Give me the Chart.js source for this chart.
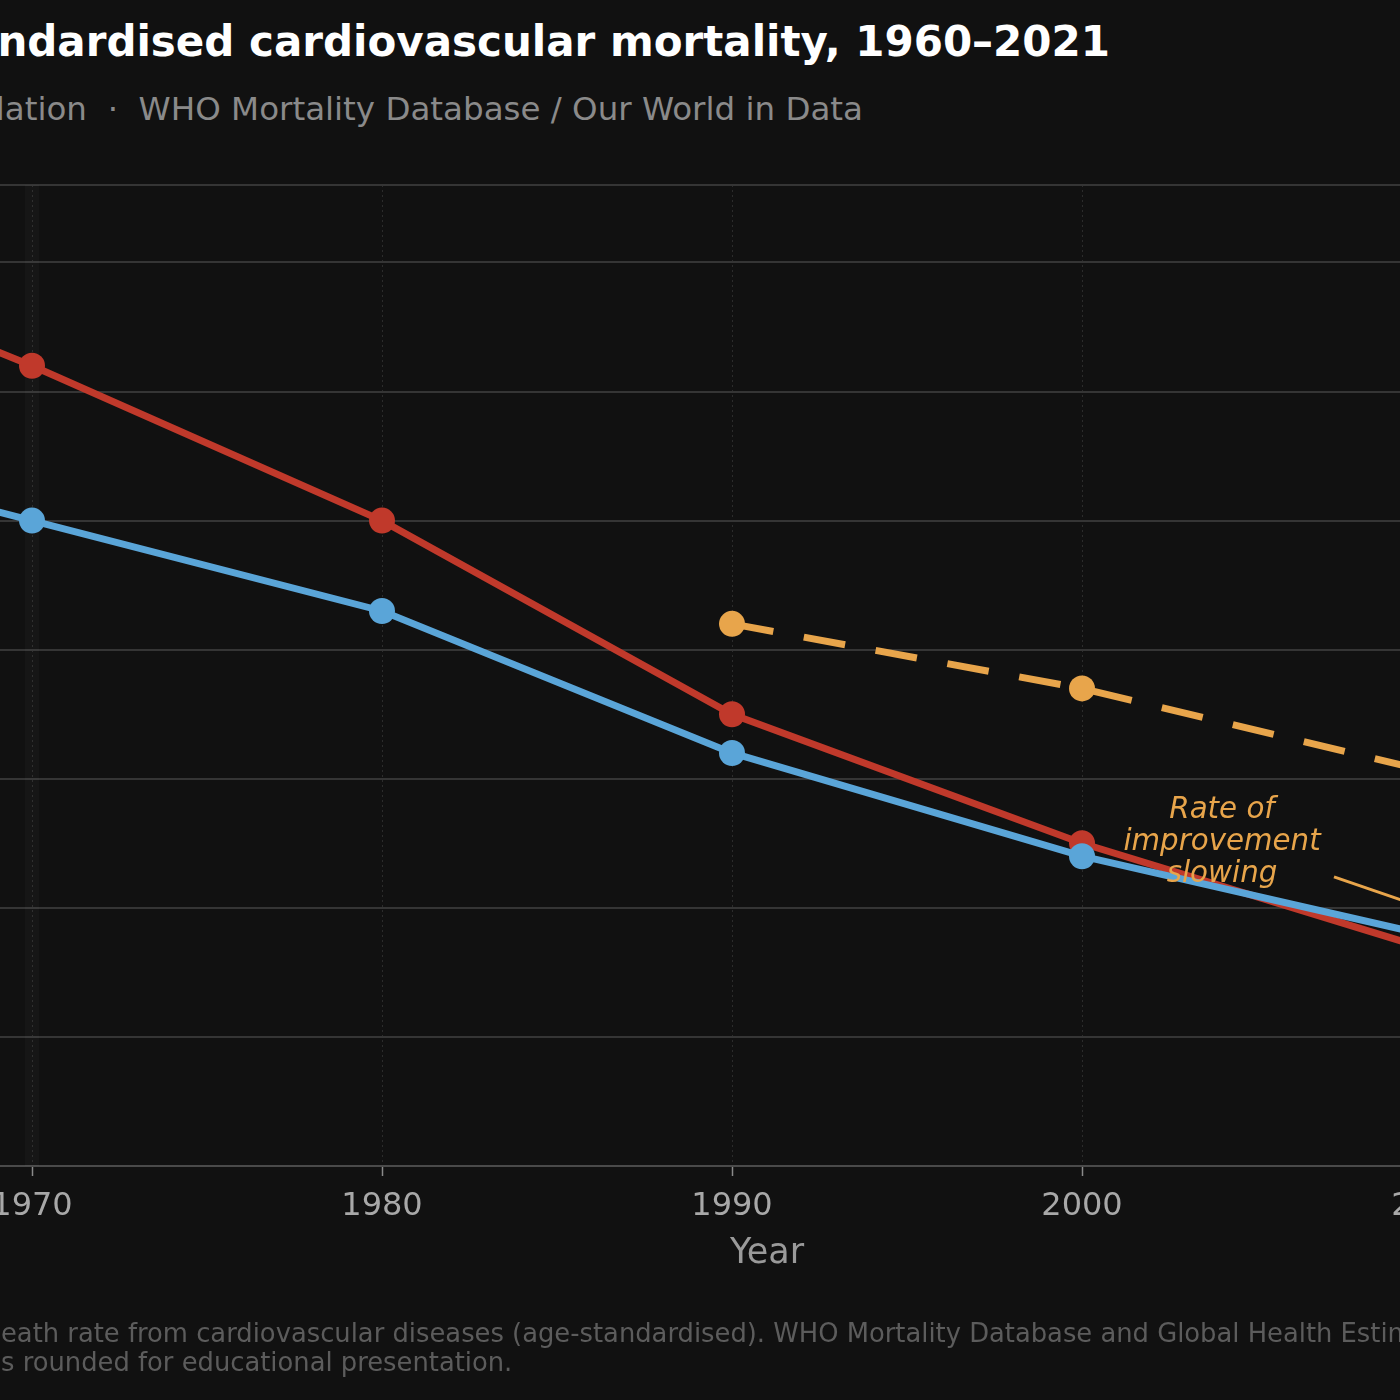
<!DOCTYPE html>
<html>
<head>
<meta charset="utf-8">
<title>Age-standardised cardiovascular mortality, 1960–2021</title>
<script src="https://cdn.jsdelivr.net/npm/chart.js@4.4.1/dist/chart.umd.min.js"></script>
<style>
    html, body { margin: 0; padding: 0; background: #111111; }
    body { position: relative; width: 1400px; height: 1400px; overflow: hidden; font-family: "DejaVu Sans", sans-serif; }
    #title { position: absolute; right: 290px; top: 17px; width: max-content; white-space: nowrap; font-size: 42px; font-weight: bold; color: #ffffff; }
    #subtitle { position: absolute; right: 537px; top: 90px; width: max-content; white-space: pre; font-size: 32.5px; color: #8a8a8a; }
    .note { position: absolute; left: 1px; white-space: nowrap; font-size: 25.8px; color: #5c5c5c; }
    .note .cut { position: absolute; right: 100%; }
    #chartWrap { position: absolute; left: -600px; top: 0; width: 2600px; height: 1400px; }
</style>
</head>
<body>
<div id="title">Age-standardised cardiovascular mortality, 1960–2021</div>
<div id="subtitle">Deaths per 100,000 population  ·  WHO Mortality Database / Our World in Data</div>
<div id="chartWrap"><canvas id="mortalityChart" width="2600" height="1400"></canvas></div>
<div class="note" style="top:1318px"><span class="cut">Source: D</span>eath rate from cardiovascular diseases (age-standardised). WHO Mortality Database and Global Health Estimates.</div>
<div class="note" style="top:1347px"><span class="cut">Value</span>s rounded for educational presentation.</div>
<script>
// --- 1. Data (deaths per 100,000, age-standardised) ---
const years = [1960, 1970, 1980, 1990, 2000, 2010, 2021];
const usValues = [730, 620, 500, 350, 250, 167, 140];
const ukValues = [570, 500, 430, 320, 240, 178, 150];
const worldYears = [1990, 2000, 2010, 2021];
const worldValues = [420, 370, 305, 280];

const xTicks = [1960, 1970, 1980, 1990, 2000, 2010, 2020];

const RED = '#c0392b';
const BLUE = '#5aa5d8';
const ORANGE = '#e8a54b';

// annotation text + arrow, placed in data units
const noteLines = ['Rate of', 'improvement', 'slowing'];
const notePos = { year: 2004, value: 251 };
const arrowFrom = { year: 2007.2, value: 224 };
const arrowTo = { year: 2013, value: 170 };

const toPoints = (xs, ys) => xs.map((x, i) => ({ x, y: ys[i] }));

// --- 2. Annotation plugin ---
const notePlugin = {
    id: 'notePlugin',
    beforeDatasetsDraw(chart) {
        const { ctx, chartArea, scales: { x } } = chart;
        const px = x.getPixelForValue(1970);
        ctx.save();
        ctx.fillStyle = 'rgba(255,255,255,0.025)';
        ctx.fillRect(px - 7, chartArea.top, 14, chartArea.bottom - chartArea.top);
        ctx.restore();
    },
    afterDatasetsDraw(chart) {
        const { ctx, scales: { x, y } } = chart;
        ctx.save();
        ctx.fillStyle = ORANGE;
        ctx.font = 'italic 29.3px "DejaVu Sans"';
        ctx.textAlign = 'center';
        ctx.textBaseline = 'middle';
        const cx = x.getPixelForValue(notePos.year);
        const cy = y.getPixelForValue(notePos.value);
        noteLines.forEach((t, i) => ctx.fillText(t, cx, cy + (i - 1) * 32));

        const x1 = x.getPixelForValue(arrowFrom.year), y1 = y.getPixelForValue(arrowFrom.value);
        const x2 = x.getPixelForValue(arrowTo.year), y2 = y.getPixelForValue(arrowTo.value);
        ctx.strokeStyle = ORANGE;
        ctx.lineWidth = 3;
        ctx.beginPath();
        ctx.moveTo(x1, y1);
        ctx.lineTo(x2, y2);
        ctx.stroke();
        const ang = Math.atan2(y2 - y1, x2 - x1);
        ctx.beginPath();
        ctx.moveTo(x2, y2);
        ctx.lineTo(x2 - 16 * Math.cos(ang - 0.4), y2 - 16 * Math.sin(ang - 0.4));
        ctx.lineTo(x2 - 16 * Math.cos(ang + 0.4), y2 - 16 * Math.sin(ang + 0.4));
        ctx.closePath();
        ctx.fill();
        ctx.restore();
    }
};

// --- 3. Chart ---
const ctx = document.getElementById('mortalityChart').getContext('2d');
const mortalityChart = new Chart(ctx, {
    type: 'line',
    data: {
        datasets: [
            { label: 'United States', data: toPoints(years, usValues), borderColor: RED, backgroundColor: RED, borderWidth: 7, pointRadius: 13, pointHoverRadius: 13, pointBorderWidth: 0, order: 2 },
            { label: 'United Kingdom', data: toPoints(years, ukValues), borderColor: BLUE, backgroundColor: BLUE, borderWidth: 7, pointRadius: 13, pointHoverRadius: 13, pointBorderWidth: 0, order: 1 },
            { label: 'World', data: toPoints(worldYears, worldValues), borderColor: ORANGE, backgroundColor: ORANGE, borderWidth: 7, borderDash: [42, 31], pointRadius: 13, pointHoverRadius: 13, pointBorderWidth: 0, order: 0 }
        ]
    },
    options: {
        responsive: false,
        animation: false,
        devicePixelRatio: 1,
        layout: { padding: { left: 0, top: 185, right: 78, bottom: 0 } },
        plugins: { legend: { display: false }, tooltip: { enabled: false } },
        scales: {
            x: {
                type: 'linear', min: 1958, max: 2024,
                afterBuildTicks: (scale) => { scale.ticks = xTicks.map(v => ({ value: v })); },
                afterFit: (scale) => { scale.height = 234; },
                ticks: { color: '#a8a8a8', font: { family: 'DejaVu Sans', size: 32 }, padding: 11, callback: (v) => String(v) },
                grid: { color: '#2c2c2c', lineWidth: 1, tickColor: '#8a8a8a', tickWidth: 1.5, tickLength: 10 },
                border: { color: '#4a4a4a', width: 2, dash: [2, 3] },
                title: { display: true, text: 'Year', color: '#9a9a9a', font: { family: 'DejaVu Sans', size: 35 }, padding: { top: 0, bottom: 125 } }
            },
            y: {
                min: 0, max: 760,
                afterFit: (scale) => { scale.width = 212; },
                ticks: { stepSize: 100, color: '#a8a8a8', font: { family: 'DejaVu Sans', size: 31 } },
                grid: { color: '#353535', lineWidth: 2, drawTicks: false },
                border: { display: false }
            }
        }
    },
    plugins: [notePlugin]
});
</script>
</body>
</html>
